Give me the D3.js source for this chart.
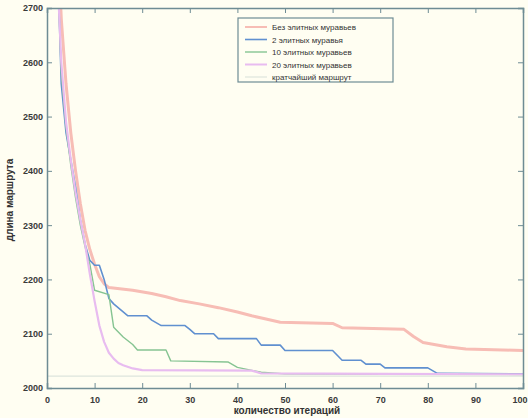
<!DOCTYPE html>
<html><head><meta charset="utf-8">
<script src="https://cdn.jsdelivr.net/npm/d3@7"></script>
<style>
html,body{margin:0;padding:0;background:#fffef2;}
svg{display:block;}
text{font-family:"Liberation Sans",Arial,sans-serif;}
</style></head>
<body>
<svg id="c" width="528" height="418"></svg>
<script>
// ---- data (iteration, route length) ----
const xTicks = [0,10,20,30,40,50,60,70,80,90,100];
const yTicks = [2000,2100,2200,2300,2400,2500,2600,2700];
const legendLabels = ["Без элитных муравьев","2 элитных муравья","10 элитных муравьев","20 элитных муравьев","кратчайший маршрут"];
const seriesColors = ["#f7bdb5","#6090d0","#86c492","#e8bcf0","#dde5dc"];

const noElite = [[1,3150],[2,2880],[3,2680],[4,2560],[5,2470],[6,2400],[7,2340],[8,2290],[9,2255],[10,2228],[11,2205],[12,2192],[13,2185],[18,2180],[22,2174],[25,2168],[28,2161],[32,2155],[36,2148],[40,2140],[43,2133],[46,2127],[49,2121],[60,2119],[62,2111],[75,2108],[77,2095],[79,2084],[84,2076],[88,2072],[100,2069]];
const elite2 = [[1,3100],[2,2850],[3,2560],[4,2470],[5,2420],[6,2370],[7,2310],[8,2265],[9,2235],[10,2226],[11,2226],[12,2200],[13,2165],[14,2155],[17,2133],[21,2133],[22,2125],[24,2115],[29,2115],[30,2108],[31,2100],[35,2100],[36,2091],[44,2091],[45,2079],[49,2079],[50,2069],[60,2069],[62,2051],[66,2051],[67,2044],[70,2044],[71,2037],[80,2037],[82,2027],[100,2026]];
const elite10 = [[1,3050],[2,2820],[3,2580],[4,2480],[5,2410],[6,2350],[7,2300],[8,2260],[9,2228],[10,2180],[13,2172],[14,2112],[16,2094],[18,2080],[19,2070],[25,2070],[26,2050],[38,2048],[40,2038],[45,2029],[50,2026],[100,2025]];
const elite20 = [[1,3000],[2,2800],[3,2600],[4,2490],[5,2420],[6,2360],[7,2310],[8,2265],[9,2210],[10,2160],[11,2115],[12,2085],[13,2065],[14,2054],[15,2046],[16,2042],[18,2036],[20,2033],[43,2032],[45,2027],[100,2025]];
const shortest = [[0,2022],[100,2022]];

const series = [noElite, elite2, elite10, elite20, shortest];
const widths = [3, 1.6, 1.4, 2.2, 1.2];

// ---- layout ----
const svg = d3.select("#c");
const L = 47, R = 523, T = 8, B = 388;
const x = d3.scaleLinear().domain([0,100]).range([L,R]);
const y = d3.scaleLinear().domain([2000,2700]).range([B,T]);
const axisCol = "#6e8c94";

svg.append("rect").attr("x",0).attr("y",0).attr("width",528).attr("height",418).attr("fill","#fffef2");

const defs = svg.append("defs");
defs.append("clipPath").attr("id","pc")
  .append("rect").attr("x",L).attr("y",T).attr("width",R-L).attr("height",B-T);
defs.append("filter").attr("id","soft").append("feGaussianBlur").attr("stdDeviation",0.45);

const line = d3.line().x(d=>x(d[0])).y(d=>y(d[1]));
const g = svg.append("g").attr("clip-path","url(#pc)");
const gl = g.append("g").attr("filter","url(#soft)");
series.forEach((s,i)=>{
  gl.append("path").datum(s).attr("d",line).attr("fill","none")
    .attr("stroke",seriesColors[i]).attr("stroke-width",widths[i])
    .attr("stroke-linejoin","round");
});

// axes (MATLAB-like inward ticks on all four sides)
function styleAxis(sel){
  sel.select(".domain").attr("stroke",axisCol).attr("stroke-width",1.5);
  sel.selectAll(".tick line").attr("stroke",axisCol).attr("stroke-width",1);
  sel.selectAll("text").attr("fill","#3a3a3a").attr("font-size",9).attr("font-weight","bold");
}
const ax = svg.append("g").attr("transform",`translate(0,${B})`)
  .call(d3.axisBottom(x).tickValues(xTicks).tickSize(-5).tickPadding(9).tickFormat(d3.format("d")));
styleAxis(ax);
// keep the last tick label inside the window
ax.selectAll(".tick").filter(d=>d===100).select("text").attr("text-anchor","end").attr("dx",4);
const axT = svg.append("g").attr("transform",`translate(0,${T})`)
  .call(d3.axisTop(x).tickValues(xTicks).tickSize(-5).tickFormat(""));
styleAxis(axT);
const ay = svg.append("g").attr("transform",`translate(${L},0)`)
  .call(d3.axisLeft(y).tickValues(yTicks).tickSize(-5).tickPadding(4).tickFormat(d3.format("d")));
styleAxis(ay);
const ayR = svg.append("g").attr("transform",`translate(${R},0)`)
  .call(d3.axisRight(y).tickValues(yTicks).tickSize(-5).tickFormat(""));
styleAxis(ayR);

// axis titles
svg.append("text").attr("x",287).attr("y",414).attr("text-anchor","middle")
  .attr("font-size",10).attr("font-weight","bold").attr("fill","#333").text("количество итераций");
svg.append("text").attr("transform","translate(13,200) rotate(-90)").attr("text-anchor","middle")
  .attr("font-size",10).attr("font-weight","bold").attr("fill","#333").text("длина маршрута");

// legend
const lg = svg.append("g");
lg.append("rect").attr("x",238).attr("y",18).attr("width",155).attr("height",64)
  .attr("fill","#fffef2").attr("stroke",axisCol).attr("stroke-width",1.2);
legendLabels.forEach((t,i)=>{
  const yy = 27 + i*12.5;
  lg.append("line").attr("x1",245).attr("x2",267).attr("y1",yy).attr("y2",yy)
    .attr("stroke",seriesColors[i]).attr("stroke-width",Math.min(widths[i],2));
  lg.append("text").attr("x",272).attr("y",yy+3).attr("font-size",8).attr("fill","#333").text(t);
});
</script>
</body></html>
